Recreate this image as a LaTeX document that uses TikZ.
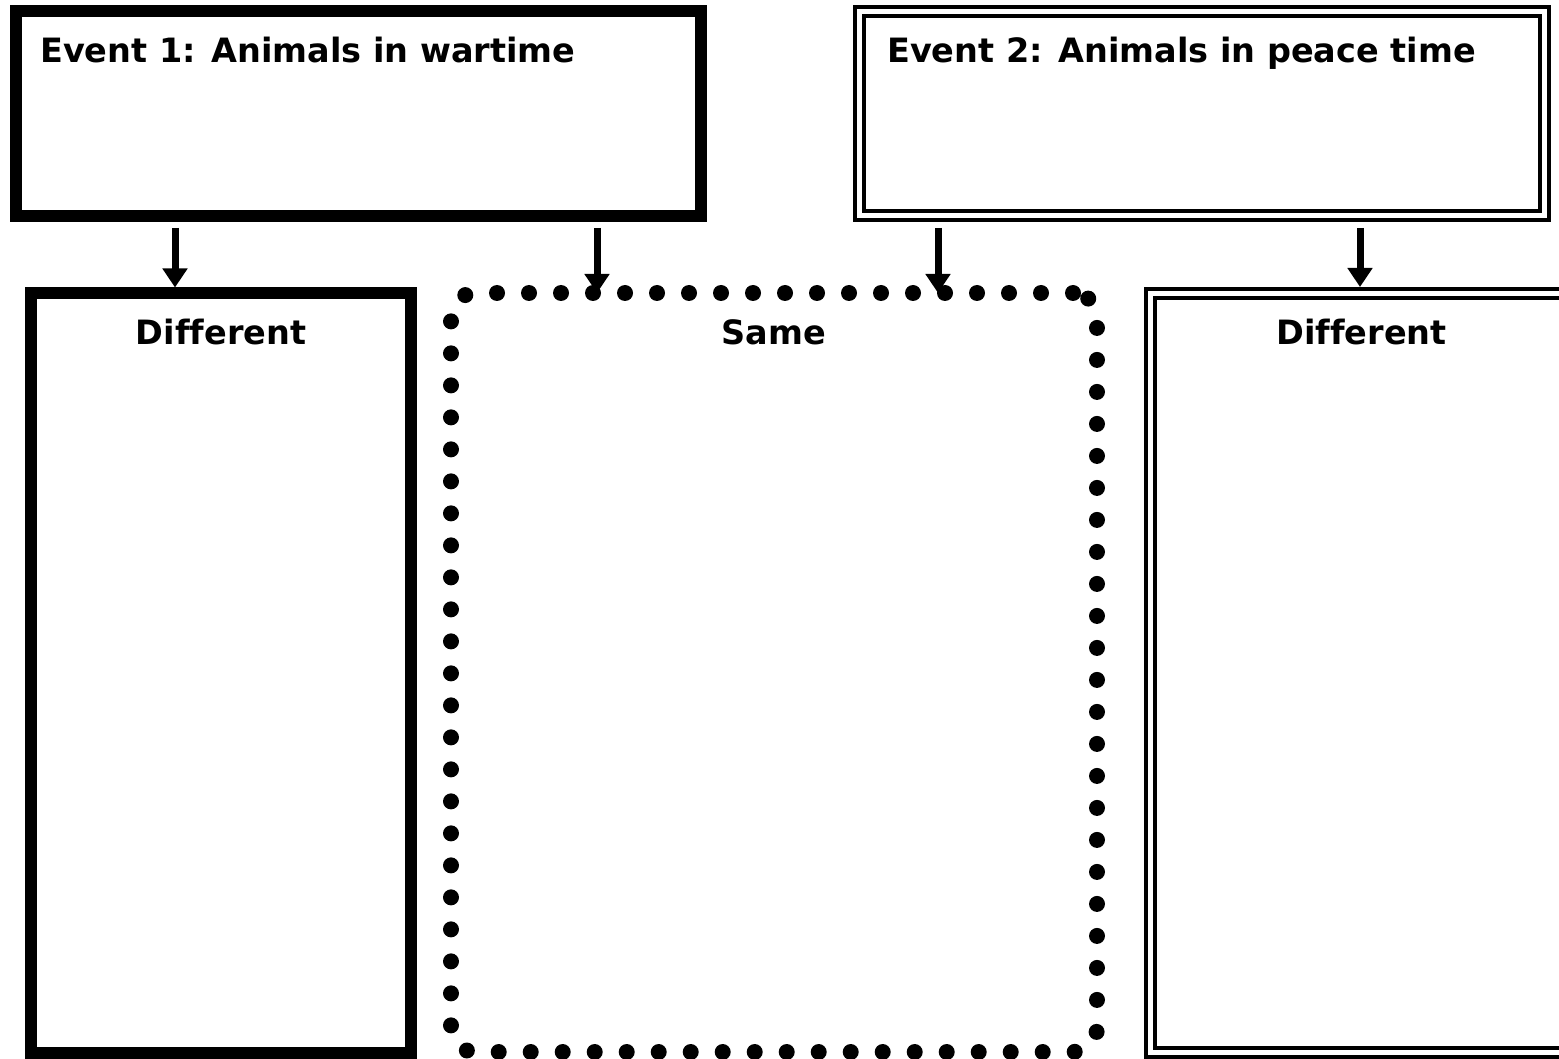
\documentclass[tikz,border=0pt]{standalone}
\usepackage{fontspec}
\setmainfont[Ligatures=NoCommon]{DejaVu Sans}
\usetikzlibrary{arrows.meta}
\begin{document}
\begin{tikzpicture}[x=1pt,y=-1pt,
  thickbox/.style={draw, line width=12pt, outer sep=6pt, inner sep=0pt},
  dblbox/.style={draw, line width=4pt, double=white, double distance=5pt, outer sep=6.5pt, inner sep=0pt},
  dotbox/.style={draw, line width=16pt, line cap=round, dash pattern=on 0pt off 32pt, rounded corners=24pt, inner sep=0pt, outer sep=0pt},
  lbl/.style={font=\bfseries\fontsize{33.5}{36}\selectfont, inner sep=0pt},
  arr/.style={line width=7pt, -{Triangle[width=24pt,length=19pt]}}]
\useasboundingbox (0,0) rectangle (1559,1059);
\fill[white] (0,0) rectangle (1559,1059);
\clip (0,0) rectangle (1559,1059);
% boxes
\node[thickbox, minimum width=685pt, minimum height=205pt] (e1) at (358.5,113.5) {};
\node[dblbox, minimum width=685pt, minimum height=204pt] (e2) at (1202,113.5) {};
\node[thickbox, minimum width=380pt, minimum height=759.5pt] (d1) at (221,673.25) {};
\node[dotbox, minimum width=646pt, minimum height=759pt] (sm) at (774,672.5) {};
\node[dblbox, minimum width=422pt, minimum height=759pt] (d2) at (1361.5,673) {};
% labels
\node[lbl, anchor=base west] (t1) at (40,63) {Event 1: Animals in wartime};
\node[lbl, anchor=base west] (t2) at (887,63) {Event 2: Animals in peace time};
\node[lbl, anchor=base] (t3) at (221,345) {Different};
\node[lbl, anchor=base] (t4) at (774,345) {Same};
\node[lbl, anchor=base] (t5) at (1361.5,345) {Different};
% arrows
\coordinate (s1) at (175,228);
\coordinate (s2) at (597,228);
\coordinate (s3) at (938,228);
\coordinate (s4) at (1360,228);
\draw[arr] (s1) -- (s1 |- d1.north);
\draw[arr] (s2) -- (s2 |- sm.north);
\draw[arr] (s3) -- (s3 |- sm.north);
\draw[arr] (s4) -- (s4 |- d2.north);
\end{tikzpicture}
\end{document}
